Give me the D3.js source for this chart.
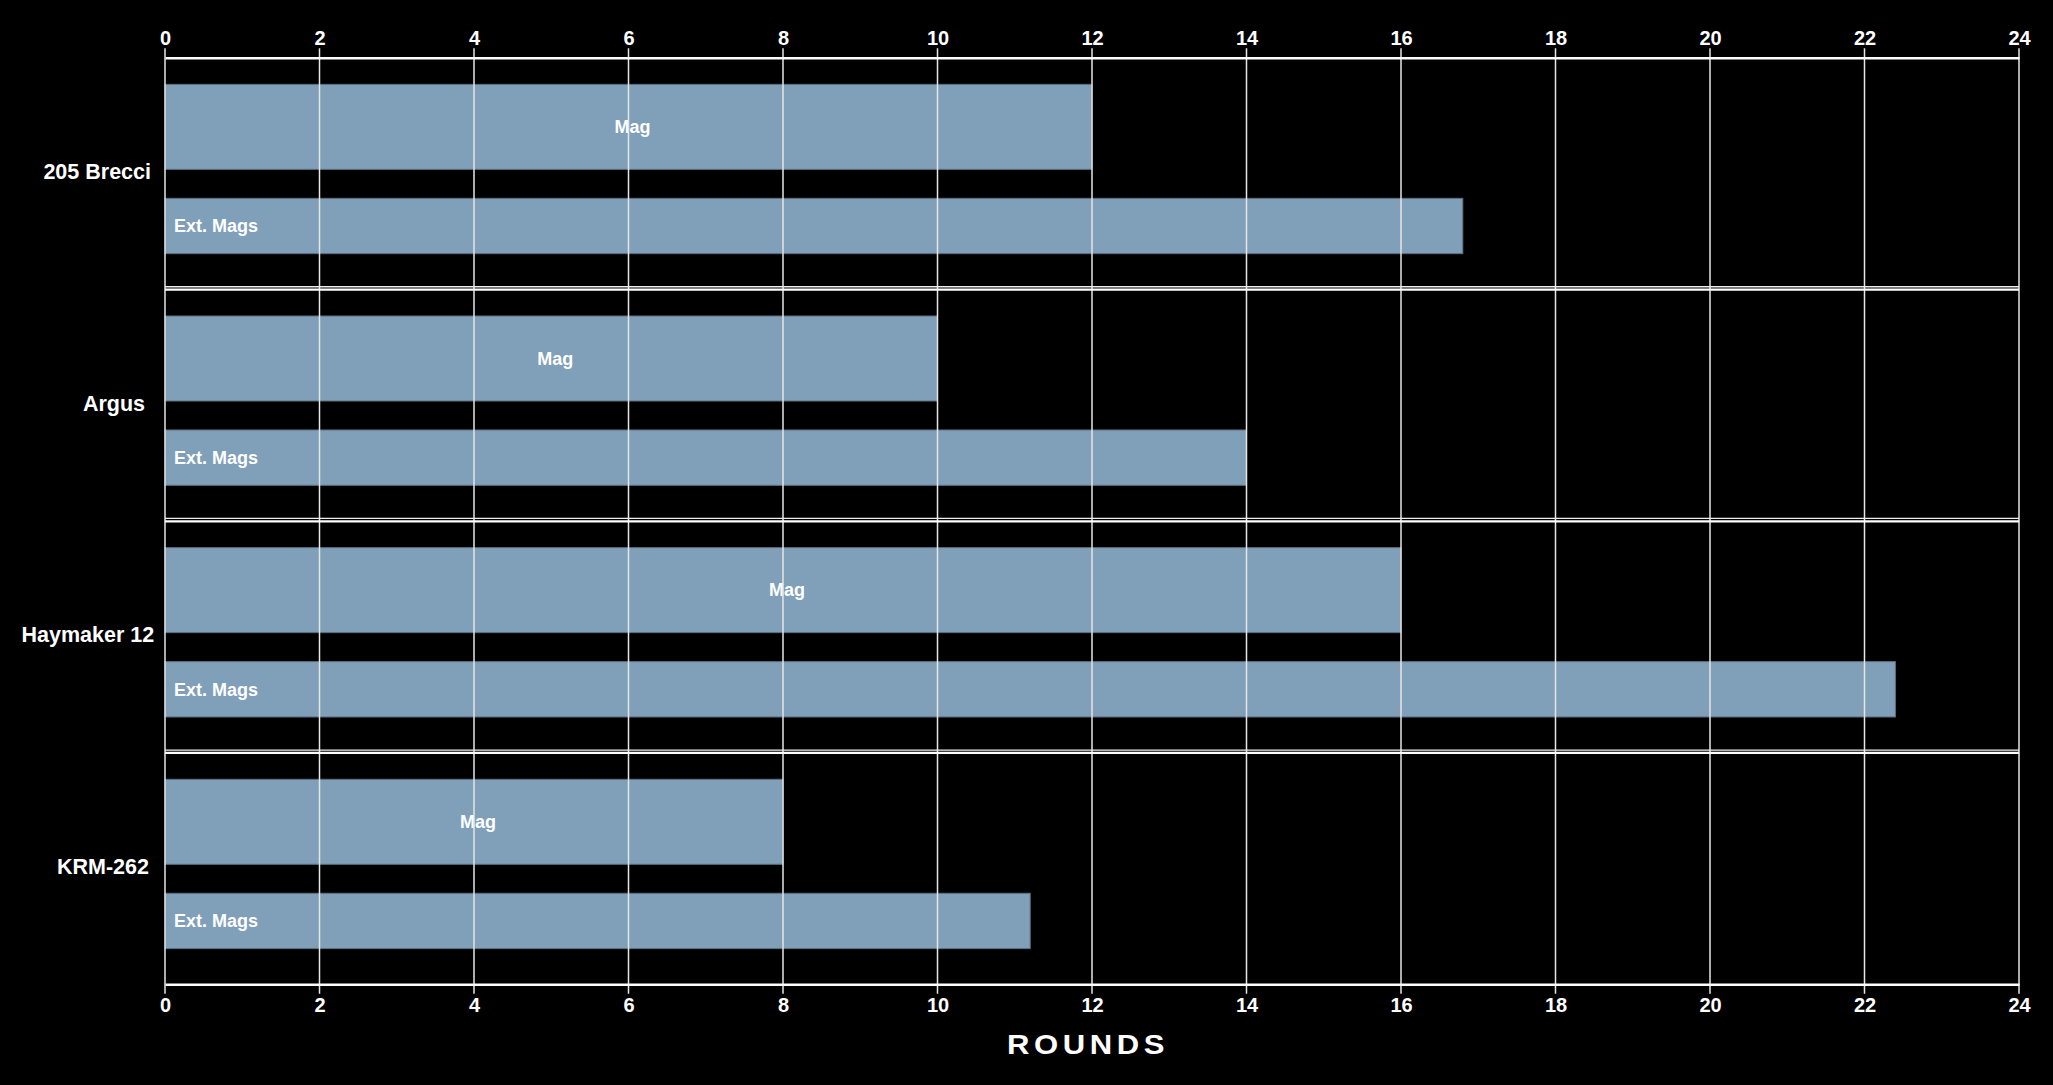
<!DOCTYPE html>
<html>
<head>
<meta charset="utf-8">
<script src="https://cdn.jsdelivr.net/npm/d3@7"></script>
<style>
  html, body { margin: 0; padding: 0; background: #000; }
  svg { display: block; }
  text { font-family: "Liberation Sans", Arial, sans-serif; font-weight: bold; fill: #fff; }
</style>
</head>
<body>
<div id="chart"></div>
<script>
// data
var weapons = ["205 Brecci", "Argus", "Haymaker 12", "KRM-262"];
var series = ["Mag", "Ext. Mags"];
var magRounds = [12, 10, 16, 8];
var extMagRounds = [16.8, 14, 22.4, 11.2];
var xTicks = [0, 2, 4, 6, 8, 10, 12, 14, 16, 18, 20, 22, 24];
var xTitle = "ROUNDS";

var svgWidth = 2053;
var svgHeight = 1085;

var margin = { top: 57.7, right: 34, bottom: 100.7, left: 165 };
var width = svgWidth - margin.left - margin.right;
var height = svgHeight - margin.top - margin.bottom;

var svg = d3.select("#chart")
  .append("svg")
  .attr("width", svgWidth)
  .attr("height", svgHeight);

svg.append("rect")
  .attr("width", svgWidth)
  .attr("height", svgHeight)
  .attr("fill", "#000");

var chartGroup = svg.append("g")
  .attr("transform", `translate(${margin.left}, ${margin.top})`);

var xScale = d3.scaleLinear()
  .domain([0, 24])
  .range([0, width]);

var yScale = d3.scaleBand()
  .domain(weapons)
  .range([0, height])
  .padding(0);

var groupH = yScale.bandwidth();

// where each series sits inside a group (fractions of the group height)
var slot = d3.scaleOrdinal()
  .domain(series)
  .range([{ y0: 0.115, y1: 0.482 }, { y0: 0.607, y1: 0.846 }]);

var rows = [];
weapons.forEach(function(w, i) {
  rows.push({ weapon: w, series: series[0], value: magRounds[i] });
  rows.push({ weapon: w, series: series[1], value: extMagRounds[i] });
});

// bars
chartGroup.selectAll("rect.bar")
  .data(rows)
  .enter()
  .append("rect")
  .attr("class", "bar")
  .attr("x", xScale(0))
  .attr("y", d => yScale(d.weapon) + slot(d.series).y0 * groupH)
  .attr("width", d => xScale(d.value) - xScale(0))
  .attr("height", d => (slot(d.series).y1 - slot(d.series).y0) * groupH)
  .attr("fill", "#809fb8")
  .attr("stroke", "#5e6f7e")
  .attr("stroke-width", 1);

// bar labels
chartGroup.selectAll("text.barlabel")
  .data(rows)
  .enter()
  .append("text")
  .attr("class", "barlabel")
  .attr("x", d => d.series === "Mag" ? xScale(d.value / 2) + 4 : xScale(0) + 9)
  .attr("y", d => yScale(d.weapon) + (slot(d.series).y0 + slot(d.series).y1) / 2 * groupH)
  .attr("dy", "0.35em")
  .attr("text-anchor", d => d.series === "Mag" ? "middle" : "start")
  .attr("font-size", "18px")
  .text(d => d.series);

// vertical grid lines (drawn over the bars)
chartGroup.selectAll("line.grid")
  .data(xTicks)
  .enter()
  .append("line")
  .attr("class", "grid")
  .attr("x1", d => xScale(d))
  .attr("x2", d => xScale(d))
  .attr("y1", -9.5)
  .attr("y2", height + 9.5)
  .attr("stroke", "#e6e6e6")
  .attr("stroke-width", 1.5);

// facet separators
var seps = weapons.slice(1).map(w => yScale(w));
chartGroup.selectAll("line.sepA")
  .data(seps)
  .enter()
  .append("line")
  .attr("x1", 0).attr("x2", width)
  .attr("y1", d => d - 2.6).attr("y2", d => d - 2.6)
  .attr("stroke", "#f0f0f0")
  .attr("stroke-width", 1.3);
chartGroup.selectAll("line.sepB")
  .data(seps)
  .enter()
  .append("line")
  .attr("x1", 0).attr("x2", width)
  .attr("y1", d => d + 0.3).attr("y2", d => d + 0.3)
  .attr("stroke", "#fff")
  .attr("stroke-width", 2.2);

// axes
var topAxis = d3.axisTop(xScale).tickValues(xTicks).tickSize(0).tickSizeOuter(0).tickPadding(13);
var bottomAxis = d3.axisBottom(xScale).tickValues(xTicks).tickSize(0).tickSizeOuter(0).tickPadding(14);

var tAxis = chartGroup.append("g").call(topAxis);
var bAxis = chartGroup.append("g")
  .attr("transform", `translate(0, ${height})`)
  .call(bottomAxis);

[tAxis, bAxis].forEach(function(a) {
  a.select(".domain").attr("stroke", "#fff").attr("stroke-width", 2.5);
  a.selectAll("text")
    .attr("fill", "#fff")
    .attr("font-size", "20px")
    .attr("font-family", "'Liberation Sans', Arial, sans-serif")
    .attr("font-weight", "bold");
});

// category labels
chartGroup.selectAll("text.cat")
  .data(weapons)
  .enter()
  .append("text")
  .attr("class", "cat")
  .attr("y", d => yScale(d) + groupH / 2 - 2)
  .attr("dy", "0.35em")
  .attr("font-size", "21.5px")
  .attr("text-anchor", "start")
  .text(d => d)
  .attr("x", function() {
    var w = this.getComputedTextLength();
    return (137 - margin.left) - 0.87 * w;
  });

// x title, stretched a bit to look like a wide display face
chartGroup.append("g")
  .attr("transform", `translate(${width / 2 - 4}, ${height + 60}) scale(1.15, 1)`)
  .append("text")
  .attr("x", 0)
  .attr("y", 0)
  .attr("dy", "0.35em")
  .attr("text-anchor", "middle")
  .attr("font-family", "'DejaVu Sans', sans-serif")
  .attr("font-size", "27px")
  .attr("letter-spacing", "4px")
  .text(xTitle);
</script>
</body>
</html>
